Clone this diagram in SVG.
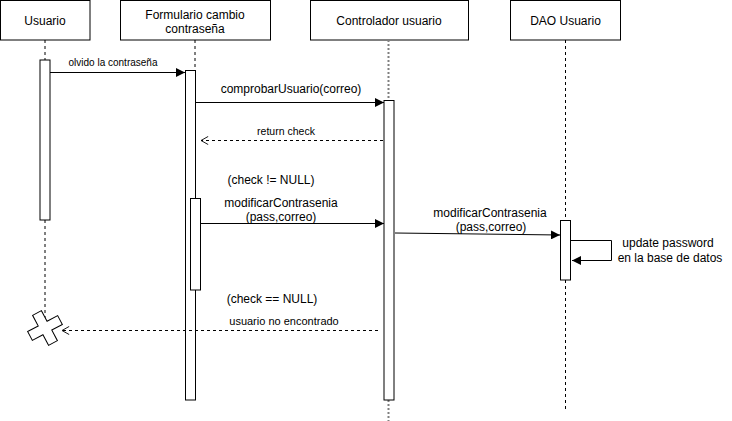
<svg xmlns="http://www.w3.org/2000/svg" width="732" height="421" viewBox="0 0 732 421">
<style>
.box{fill:#fff;stroke:#000;stroke-width:1}
.act{fill:#fff;stroke:#000;stroke-width:1}
.lb{font-family:"Liberation Sans",Arial,sans-serif;fill:#000;text-anchor:middle;dominant-baseline:central}
.msg{fill:none;stroke:#000;stroke-width:1}
.ret{fill:none;stroke:#000;stroke-width:1;stroke-dasharray:3 3}
.life{fill:none;stroke:#000;stroke-width:1;stroke-dasharray:3 3}
</style>
<defs>
<marker id="blk" viewBox="0 0 10 10" refX="10" refY="5" markerWidth="9" markerHeight="9" markerUnits="userSpaceOnUse" orient="auto">
<path d="M0,0 L10,5 L0,10 Z" fill="#000"/>
</marker>
<marker id="opn" viewBox="0 0 10 10" refX="9" refY="5" markerWidth="9" markerHeight="9" markerUnits="userSpaceOnUse" orient="auto">
<path d="M1,0.5 L9,5 L1,9.5" fill="none" stroke="#000" stroke-width="1"/>
</marker>
</defs>
<rect width="732" height="421" fill="#fff"/>

<g id="usuario">
<rect class="box" x="0.5" y="0.5" width="89.5" height="39.5"/>
<text class="lb" x="45" y="20.5" font-size="12">Usuario</text>
<line class="life" x1="45" y1="40" x2="45" y2="318"/>
<rect class="act" x="40" y="60" width="10" height="160"/>
</g>

<g id="formulario">
<rect class="box" x="120.5" y="0.5" width="150" height="39.5"/>
<text class="lb" x="195" y="15" font-size="12">Formulario cambio</text>
<text class="lb" x="195" y="28.5" font-size="12">contraseña</text>
<line class="life" x1="195" y1="40" x2="195" y2="70"/>
<rect class="act" x="185.5" y="70.5" width="10" height="329.5"/>
<rect class="act" x="190.5" y="198.5" width="10" height="91.5"/>
</g>

<g id="controlador">
<rect class="box" x="310.5" y="0.5" width="158" height="39.5"/>
<text class="lb" x="389" y="20.5" font-size="12">Controlador usuario</text>
<line x1="388.5" y1="40" x2="388.5" y2="100" stroke="#808080" stroke-width="2" stroke-dasharray="2 2"/>
<line x1="388.5" y1="400" x2="388.5" y2="421" stroke="#808080" stroke-width="2" stroke-dasharray="2 2"/>
<rect class="act" x="384" y="100.5" width="10" height="299.5" stroke="#808080" stroke-width="2"/>
</g>

<g id="dao">
<rect class="box" x="510.5" y="0.5" width="110" height="39.5"/>
<text class="lb" x="565.5" y="20.5" font-size="12">DAO Usuario</text>
<line class="life" x1="565.5" y1="40" x2="565.5" y2="410"/>
<rect class="act" x="560.5" y="220.5" width="10" height="59.5"/>
</g>

<g id="destroy">
<path d="M-5,-17 H5 V-5 H17 V5 H5 V17 H-5 V5 H-17 V-5 H-5 Z" transform="translate(45,328) rotate(-28)" fill="#fff" stroke="#000" stroke-width="1"/>
</g>

<g id="connectors">
<line class="msg" x1="50" y1="72.5" x2="185" y2="72.5" marker-end="url(#blk)"/>
<text class="lb" x="113" y="62" font-size="10">olvido la contraseña</text>

<line class="msg" x1="196" y1="102.5" x2="384" y2="102.5" stroke="#404040" marker-end="url(#blk)"/>
<text class="lb" x="291" y="89" font-size="12">comprobarUsuario(correo)</text>

<line class="ret" x1="383" y1="140.5" x2="201" y2="140.5" marker-end="url(#opn)"/>
<text class="lb" x="286" y="131" font-size="10.5">return check</text>

<text class="lb" x="271" y="180" font-size="12">(check != NULL)</text>

<line class="msg" x1="201" y1="223.5" x2="384" y2="223.5" marker-end="url(#blk)"/>
<text class="lb" x="281" y="203" font-size="12">modificarContrasenia</text>
<text class="lb" x="281" y="217" font-size="12">(pass,correo)</text>

<line class="msg" x1="395" y1="233" x2="560" y2="235" stroke="#404040" marker-end="url(#blk)"/>
<text class="lb" x="490" y="213" font-size="12">modificarContrasenia</text>
<text class="lb" x="491" y="227" font-size="12">(pass,correo)</text>

<polyline class="msg" points="571,240.5 611.5,240.5 611.5,260.5 572,260.5" marker-end="url(#blk)"/>
<text class="lb" x="668" y="243" font-size="12">update password</text>
<text class="lb" x="670" y="257.5" font-size="12">en la base de datos</text>

<text class="lb" x="272" y="299" font-size="12">(check == NULL)</text>

<line class="ret" x1="378" y1="330.5" x2="62" y2="330.5" marker-end="url(#opn)"/>
<text class="lb" x="284" y="321" font-size="11">usuario no encontrado</text>
</g>
</svg>
